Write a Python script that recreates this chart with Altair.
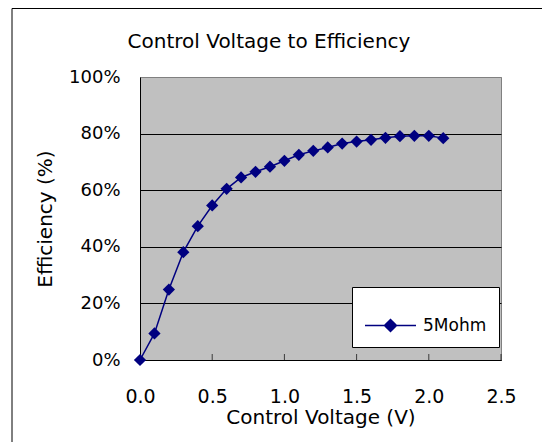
import altair as alt
import pandas as pd

title_text = "Control Voltage to Efficiency"
voltage = [0.0, 0.1, 0.2, 0.3, 0.4, 0.5, 0.6, 0.7, 0.8, 0.9, 1.0,
           1.1, 1.2, 1.3, 1.4, 1.5, 1.6, 1.7, 1.8, 1.9, 2.0, 2.1]
efficiency = [0.0, 9.4, 24.9, 38.1, 47.3, 54.6, 60.5, 64.5, 66.5, 68.3, 70.4,
              72.5, 73.9, 75.1, 76.5, 77.2, 77.8, 78.5, 79.1, 79.2, 79.2, 78.4]
series = "5Mohm"
x_ticks = [0.0, 0.5, 1.0, 1.5, 2.0, 2.5]
y_ticks = [0.0, 0.2, 0.4, 0.6, 0.8, 1.0]

df = pd.DataFrame({
    "v": voltage,
    "eff": [e / 100 for e in efficiency],
    "s": [series] * len(voltage),
})
ticks_df = pd.DataFrame({"t": x_ticks[1:]})

FONT = "DejaVu Sans"
NAVY = "#000080"
W, H = 361, 283

xscale = alt.Scale(domain=[0, 2.5], nice=False, zero=False)
yscale = alt.Scale(domain=[0, 1], nice=False)

xaxis = alt.Axis(values=x_ticks, format=".1f", tickSize=0, grid=False,
                 domainColor="black", labelFontSize=19, labelFont=FONT,
                 labelColor="black", labelPadding=27, labelFlush=False,
                 title="Control Voltage (V)", titleFont=FONT, titleFontSize=20,
                 titleFontWeight="normal", titleColor="black", titleY=47)
yaxis = alt.Axis(values=y_ticks, format=".0%", tickSize=0, grid=True,
                 gridColor={"condition": {"test": "datum.value >= 1", "value": "#808080"},
                            "value": "black"},
                 gridOpacity=1, domainColor="black", labelFontSize=18, labelFont=FONT,
                 labelColor="black", labelPadding=20, labelFlush=False,
                 title="Efficiency (%)", titleFont=FONT, titleFontSize=20,
                 titleFontWeight="normal", titleColor="black",
                 titleX=-95, titleY=H / 2, titleBaseline="middle", titleAngle=-90)

base1 = alt.Chart(pd.DataFrame({"label": [title_text]}))

frame = base1.mark_rect(
    fill="white", fillOpacity=0, stroke="black", strokeWidth=1
).encode(x=alt.value(-128), x2=alt.value(700), y=alt.value(-68.5), y2=alt.value(600))

title = base1.mark_text(font=FONT, fontSize=20, color="black", align="center",
                        baseline="alphabetic").encode(
    text="label:N", x=alt.value(129), y=alt.value(-29))

legend_path = "M-1,0L-0.235,0M0.235,0L1,0M0,-0.235L0.235,0L0,0.235L-0.235,0Z"

line = alt.Chart(df).mark_line(strokeWidth=1.5).encode(
    x=alt.X("v:Q", scale=xscale, axis=xaxis),
    y=alt.Y("eff:Q", scale=yscale, axis=yaxis),
    color=alt.Color("s:N", scale=alt.Scale(domain=[series], range=[NAVY]),
                    legend=alt.Legend(
                        title=None, orient="none", legendX=212, legendY=210,
                        fillColor="white", strokeColor="black", padding=12,
                        symbolType=legend_path, symbolSize=2601,
                        symbolFillColor=NAVY, symbolStrokeColor=NAVY,
                        symbolStrokeWidth=1.5, labelFont=FONT, labelFontSize=17,
                        labelColor="black", labelOffset=6)),
)

points = alt.Chart(df).mark_point(shape="diamond", filled=True, size=150,
                                  opacity=1, color=NAVY).encode(
    x=alt.X("v:Q", scale=xscale),
    y=alt.Y("eff:Q", scale=yscale),
)

xt = alt.Chart(ticks_df).mark_tick(orient="vertical", size=6, thickness=1,
                                   color="black").encode(
    x=alt.X("t:Q", scale=xscale),
    y=alt.value(H - 3),
)

chart = alt.layer(frame, title, line, points, xt).properties(
    width=W, height=H,
    autosize=alt.AutoSizeParams(type="none"),
    padding={"left": 132, "top": 69, "right": 41, "bottom": 82},
).configure_view(
    fill="#C0C0C0", stroke="#808080", strokeWidth=1
)

chart.save("out.html", embed_options={"renderer": "svg", "actions": False})
